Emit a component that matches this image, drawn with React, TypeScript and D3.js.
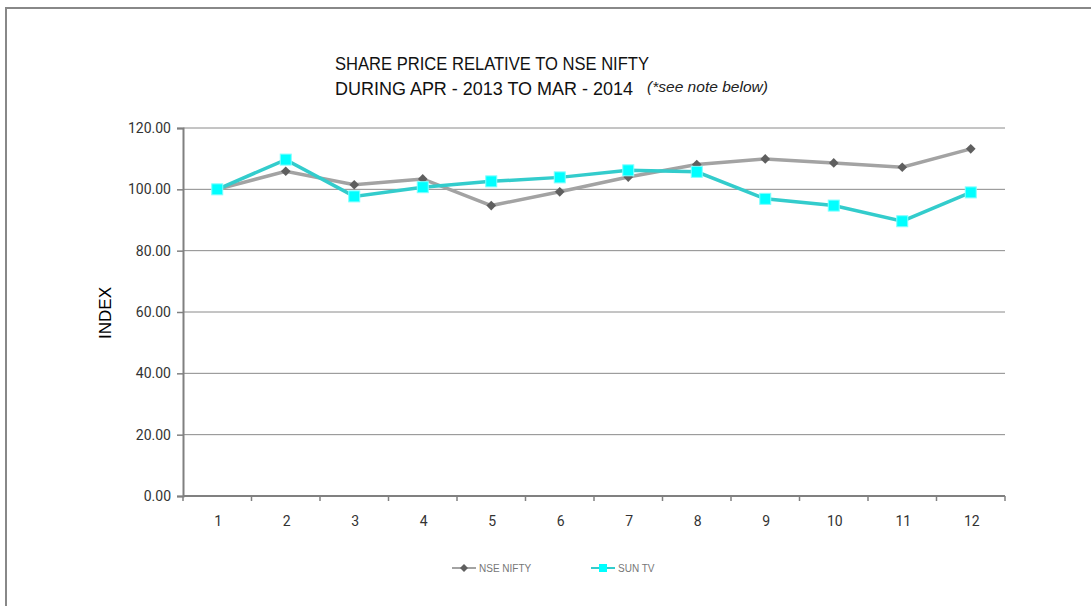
import React, { useEffect, useRef } from "react";
import * as d3 from "d3";

const months = ["1", "2", "3", "4", "5", "6", "7", "8", "9", "10", "11", "12"];
const nseNifty = [100, 105.9, 101.5, 103.4, 94.7, 99.2, 104, 108.1, 109.9, 108.6, 107.2, 113.2];
const sunTv = [100, 109.7, 97.7, 100.7, 102.6, 103.9, 106.2, 105.7, 96.9, 94.7, 89.6, 99.0];
const yTicks = [0, 20, 40, 60, 80, 100, 120];

const App: React.FC = () => {
  const svgRef = useRef<SVGSVGElement>(null);

  useEffect(() => {
    if (!svgRef.current) return;
    const width = 1091;
    const height = 606;
    const margin = { top: 128, right: 86, bottom: 110, left: 183 };

    const svg = d3.select(svgRef.current);
    svg.selectAll("*").remove();
    svg.attr("width", width).attr("height", height);

    // outer frame
    svg
      .append("rect")
      .attr("x", 6)
      .attr("y", 8)
      .attr("width", width + 20)
      .attr("height", height + 20)
      .attr("fill", "#fff")
      .attr("stroke", "#888")
      .attr("stroke-width", 2);

    const x = d3
      .scaleBand()
      .domain(months)
      .range([margin.left, width - margin.right]);

    const y = d3
      .scaleLinear()
      .domain([0, 120])
      .range([height - margin.bottom, margin.top]);

    // grid lines
    svg
      .append("g")
      .selectAll("line")
      .data(yTicks.filter((t) => t > 0))
      .join("line")
      .attr("x1", margin.left)
      .attr("x2", width - margin.right)
      .attr("y1", (d) => y(d))
      .attr("y2", (d) => y(d))
      .attr("stroke", "#8a8a8a")
      .attr("stroke-width", 1);

    // y axis
    const yAxis = svg
      .append("g")
      .attr("transform", `translate(${margin.left},0)`)
      .call(
        d3
          .axisLeft(y)
          .tickValues(yTicks)
          .tickFormat((d) => d3.format(".2f")(d as number))
          .tickSize(6)
          .tickPadding(6)
      );
    yAxis.select(".domain").attr("stroke", "#808080").attr("stroke-width", 2);
    yAxis.selectAll(".tick line").attr("stroke", "#808080").attr("stroke-width", 1.5);
    yAxis
      .selectAll(".tick text")
      .attr("fill", "#333")
      .style("font-family", "Roboto, sans-serif")
      .style("font-size", "14px");

    // x axis
    const xAxisY = y(0);
    const xg = svg.append("g");
    xg.append("line")
      .attr("x1", margin.left)
      .attr("x2", width - margin.right)
      .attr("y1", xAxisY)
      .attr("y2", xAxisY)
      .attr("stroke", "#808080")
      .attr("stroke-width", 2);
    const bounds = months.map((m) => x(m) as number).concat([width - margin.right]);
    xg.selectAll("line.tk")
      .data(bounds)
      .join("line")
      .attr("class", "tk")
      .attr("x1", (d) => d)
      .attr("x2", (d) => d)
      .attr("y1", xAxisY)
      .attr("y2", xAxisY + 5)
      .attr("stroke", "#808080")
      .attr("stroke-width", 1.5);
    xg.selectAll("text")
      .data(months)
      .join("text")
      .attr("x", (d) => (x(d) as number) + x.bandwidth() / 2 + 1)
      .attr("y", xAxisY + 30)
      .attr("text-anchor", "middle")
      .attr("fill", "#333")
      .style("font-family", "Roboto, sans-serif")
      .style("font-size", "14px")
      .text((d) => d);

    const cx = (i: number) => (x(months[i]) as number) + x.bandwidth() / 2;
    const line = d3
      .line<number>()
      .x((_, i) => cx(i))
      .y((d) => y(d));

    // NSE NIFTY
    svg
      .append("path")
      .datum(nseNifty)
      .attr("fill", "none")
      .attr("stroke", "#a3a3a3")
      .attr("stroke-width", 3.5)
      .attr("d", line);
    svg
      .append("g")
      .selectAll("path")
      .data(nseNifty)
      .join("path")
      .attr("transform", (d, i) => `translate(${cx(i)},${y(d)})`)
      .attr("d", d3.symbol(d3.symbolDiamond2, 60)())
      .attr("fill", "#5f5f5f");

    // SUN TV
    svg
      .append("path")
      .datum(sunTv)
      .attr("fill", "none")
      .attr("stroke", "#33cccc")
      .attr("stroke-width", 3.5)
      .attr("d", line);
    svg
      .append("g")
      .selectAll("rect")
      .data(sunTv)
      .join("rect")
      .attr("x", (_, i) => cx(i) - 5.5)
      .attr("y", (d) => y(d) - 5.5)
      .attr("width", 11)
      .attr("height", 11)
      .attr("fill", "#00ffff")
      .attr("stroke", "#7fffff")
      .attr("stroke-width", 1);

    // title (condensed look)
    const titleFont = "'Liberation Sans', Arial, sans-serif";
    svg
      .append("text")
      .attr("x", 335)
      .attr("y", 70)
      .attr("textLength", 314)
      .attr("lengthAdjust", "spacingAndGlyphs")
      .style("font-family", titleFont)
      .style("font-size", "19px")
      .attr("fill", "#111")
      .text("SHARE PRICE RELATIVE TO NSE NIFTY");
    svg
      .append("text")
      .attr("x", 335)
      .attr("y", 95)
      .attr("textLength", 298)
      .attr("lengthAdjust", "spacingAndGlyphs")
      .style("font-family", titleFont)
      .style("font-size", "19px")
      .attr("fill", "#111")
      .text("DURING APR - 2013 TO MAR - 2014");
    svg
      .append("text")
      .attr("x", 647)
      .attr("y", 92)
      .attr("textLength", 121)
      .attr("lengthAdjust", "spacingAndGlyphs")
      .style("font-family", titleFont)
      .style("font-size", "15px")
      .style("font-style", "italic")
      .attr("fill", "#222")
      .text("(*see note below)");

    // y axis title
    svg
      .append("text")
      .attr("transform", `translate(111,313) rotate(-90)`)
      .attr("text-anchor", "middle")
      .style("font-family", "'Liberation Sans', Arial, sans-serif")
      .style("font-size", "17px")
      .attr("fill", "#000")
      .text("INDEX");

    // legend
    const legend = [
      { name: "NSE NIFTY", x: 452, line: "#a3a3a3", kind: "diamond" },
      { name: "SUN TV", x: 591, line: "#33cccc", kind: "square" },
    ];
    const lg = svg.append("g").attr("transform", "translate(0,568)");
    legend.forEach((l) => {
      lg.append("line")
        .attr("x1", l.x)
        .attr("x2", l.x + 24)
        .attr("y1", 0)
        .attr("y2", 0)
        .attr("stroke", l.line)
        .attr("stroke-width", 2);
      if (l.kind === "diamond") {
        lg.append("path")
          .attr("transform", `translate(${l.x + 12},0)`)
          .attr("d", d3.symbol(d3.symbolDiamond2, 40)())
          .attr("fill", "#5f5f5f");
      } else {
        lg.append("rect")
          .attr("x", l.x + 8)
          .attr("y", -4)
          .attr("width", 8)
          .attr("height", 8)
          .attr("fill", "#00ffff");
      }
      lg.append("text")
        .attr("x", l.x + 27)
        .attr("y", 4)
        .style("font-family", "'Liberation Sans', Arial, sans-serif")
        .style("font-size", "10px")
        .attr("fill", "#777")
        .text(l.name);
    });
  }, []);

  return <svg ref={svgRef} style={{ position: "absolute", left: 0, top: 0 }} />;
};

export default App;
